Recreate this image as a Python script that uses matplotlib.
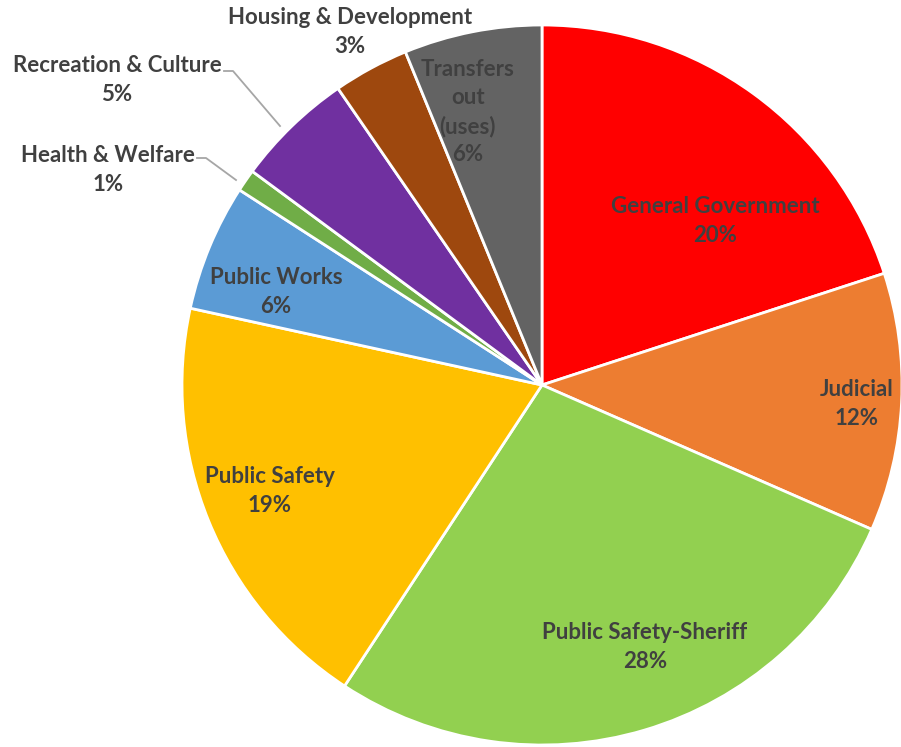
import matplotlib
matplotlib.use("Agg")
import matplotlib.pyplot as plt

categories = ["General Government", "Judicial", "Public Safety-Sheriff", "Public Safety",
              "Public Works", "Health & Welfare", "Recreation & Culture",
              "Housing & Development", "Transfers\nout\n(uses)"]
values = [20.0, 11.6, 27.7, 19.2, 5.7, 1.0, 5.3, 3.4, 6.2]
colors = ["#FF0000", "#ED7D31", "#92D050", "#FFC000", "#5B9BD5", "#70AD47",
          "#7030A0", "#9E480E", "#636363"]

# label block centres in pixel coords (x from left, y from top)
label_pos = [(715, 221), (857, 404), (645, 647), (270, 491), (276, 292),
             (108, 170), (117, 80), (350, 32), (468, 112)]
# leader lines (pixel coords) for outside labels
leaders = {5: [(197, 158), (206, 158), (236, 180)],
           6: [(224, 71), (233, 71), (280, 126)]}

W, H = 901, 747
fig = plt.figure(figsize=(W / 100, H / 100), dpi=100)
ax = fig.add_axes([0, 0, 1, 1])
ax.set_xlim(0, W)
ax.set_ylim(0, H)
ax.set_aspect("equal")
ax.axis("off")

cx, cy, R = 542, H - 385, 360
ax.pie(values, colors=colors, startangle=90, counterclock=False,
       center=(cx, cy), radius=R,
       wedgeprops=dict(edgecolor="white", linewidth=2.0))
ax.set_xlim(0, W)
ax.set_ylim(0, H)

total = sum(values)
for i, (name, v) in enumerate(zip(categories, values)):
    x, y = label_pos[i]
    txt = f"{name}\n{round(v / total * 100):.0f}%"
    ax.text(x, H - y, txt, ha="center", va="center", fontsize=16,
            fontweight="bold", color="#404040", family=["Lato", "DejaVu Sans"],
            linespacing=1.42)

for i, pts in leaders.items():
    xs = [p[0] for p in pts]
    ys = [H - p[1] for p in pts]
    ax.plot(xs, ys, color="#A6A6A6", lw=1.3)

fig.savefig("out.png", dpi=100)
